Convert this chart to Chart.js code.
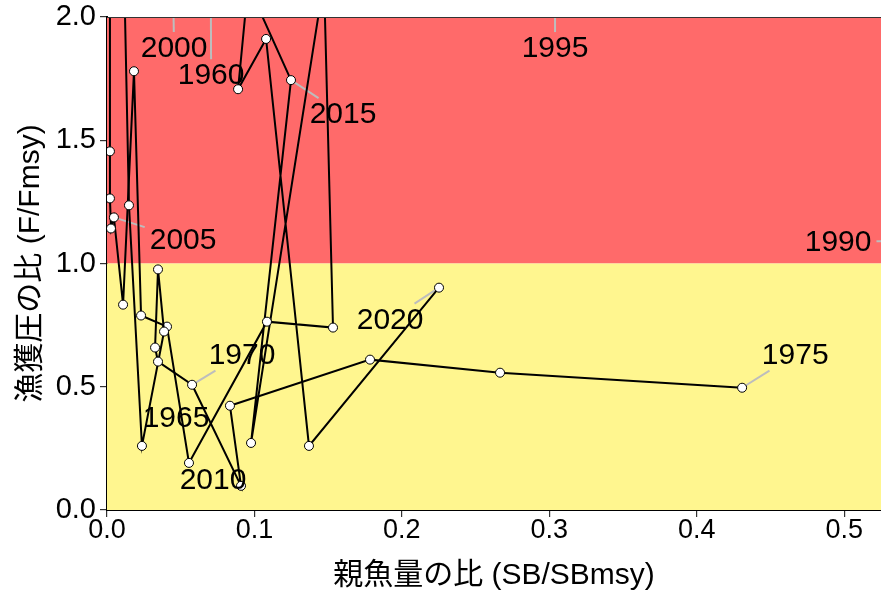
<!DOCTYPE html>
<html>
<head>
<meta charset="utf-8">
<script src="https://cdn.jsdelivr.net/npm/chart.js@4.4.1/dist/chart.umd.min.js"></script>
<style>
  html, body { margin: 0; padding: 0; background: #fff; }
  #wrap { width: 881px; height: 594px; }
</style>
</head>
<body>
<div id="wrap"><canvas id="kobe"></canvas></div>
<script>
// first run of years (1960-1975)
const yearsA = [1960, 1961, 1962, 1963, 1964, 1965, 1966, 1967, 1968, 1969, 1970, 1971, 1972, 1973, 1974, 1975];
const sbA = [0.0699, 0.045, 0.020, 0.0105, 0.0149, 0.0237, 0.0387, 0.0346, 0.0326, 0.0346, 0.0577, 0.0909, 0.0834, 0.1784, 0.2666, 0.4308];
const fA = [3.4, 3.9, 3.3, 2.5, 1.236, 0.260, 0.724, 0.976, 0.659, 0.602, 0.508, 0.098, 0.423, 0.610, 0.557, 0.496];

// second run of years (1990-2020)
const yearsB = [1990, 1991, 1992, 1993, 1994, 1995, 1996, 1997, 1998, 1999, 2000, 2001, 2002, 2003, 2004, 2005,
                2006, 2007, 2008, 2009, 2010, 2011, 2012, 2013, 2014, 2015, 2016, 2017, 2018, 2019, 2020];
const sbB = [0.60, 0.66, 0.56, 0.46, 0.37, 0.3039, 0.23, 0.16, 0.11, 0.07, 0.0421, 0.002, 0.0020, 0.0020, 0.0027, 0.0047,
             0.0109, 0.0183, 0.0231, 0.0407, 0.0556, 0.1085, 0.1533, 0.1472, 0.0977, 0.1248, 0.0957, 0.0889, 0.1079, 0.1370, 0.2252];
const fB = [1.093, 2.7, 3.1, 3.4, 3.0, 2.9, 3.2, 3.5, 3.3, 3.0, 3.1, 2.7, 1.455, 1.264, 1.142, 1.187,
            0.833, 1.780, 0.789, 0.744, 0.191, 0.764, 0.740, 2.15, 0.272, 1.744, 2.13, 1.707, 1.911, 0.260, 0.902];

const xTicks = [0, 0.1, 0.2, 0.3, 0.4, 0.5];
const yTicks = [0, 0.5, 1.0, 1.5, 2.0];

// where the year labels sit (data units)
const labelYears = [1960, 1965, 1970, 1975, 1990, 1995, 2000, 2005, 2010, 2015, 2020];
const labelX = [0.0706, 0.0468, 0.0916, 0.4668, 0.4959, 0.3039, 0.0455, 0.0516, 0.0719, 0.1601, 0.1920];
const labelY = [1.764, 0.374, 0.630, 0.630, 1.089, 1.874, 1.874, 1.098, 0.122, 1.606, 0.772];

const FONT = '"Liberation Sans", Arial, "Noto Sans CJK JP", sans-serif';

const toPts = (xs, ys) => xs.map((v, i) => ({ x: v, y: ys[i] }));

function findYear(yr) {
  let i = yearsA.indexOf(yr);
  if (i >= 0) return { x: sbA[i], y: fA[i] };
  i = yearsB.indexOf(yr);
  if (i >= 0) return { x: sbB[i], y: fB[i] };
  return null;
}

const zones = {
  id: 'zones',
  beforeDatasetsDraw(chart) {
    const { ctx, chartArea: a, scales: { x, y } } = chart;
    const y1 = y.getPixelForValue(1.0);
    ctx.save();
    ctx.fillStyle = '#FF6A6A';
    ctx.fillRect(a.left, a.top, a.right - a.left, y1 - a.top);
    ctx.fillStyle = '#FFF68F';
    ctx.fillRect(a.left, y1, a.right - a.left, a.bottom - y1);

    // leader segments (short ones are skipped, like ggrepel)
    ctx.beginPath();
    ctx.rect(a.left, a.top, a.right - a.left, a.bottom - a.top);
    ctx.clip();
    ctx.font = '30px ' + FONT;
    ctx.strokeStyle = '#BDBDBD';
    ctx.lineWidth = 2;
    labelYears.forEach((yr, i) => {
      const p = findYear(yr);
      if (!p) return;
      const cx = x.getPixelForValue(labelX[i]);
      const cy = y.getPixelForValue(labelY[i]);
      const px = x.getPixelForValue(p.x);
      const py = y.getPixelForValue(p.y);
      const hw = ctx.measureText(String(yr)).width / 2 + 5;
      const hh = 16;
      const dx = px - cx, dy = py - cy;
      const t = Math.min(Math.abs(dx) > 0 ? hw / Math.abs(dx) : Infinity, Math.abs(dy) > 0 ? hh / Math.abs(dy) : Infinity);
      if (t >= 1) return;
      const sx = cx + dx * t, sy = cy + dy * t;
      if (Math.hypot(px - sx, py - sy) < 22) return;
      ctx.beginPath();
      ctx.moveTo(sx, sy);
      ctx.lineTo(px, py);
      ctx.stroke();
    });
    ctx.restore();
  },
  afterDatasetsDraw(chart) {
    const { ctx, chartArea: a, scales: { x, y } } = chart;
    ctx.save();
    ctx.beginPath();
    ctx.rect(a.left, 0, a.right - a.left, a.bottom);
    ctx.clip();
    ctx.fillStyle = '#000';
    ctx.font = '30px ' + FONT;
    ctx.textAlign = 'center';
    ctx.textBaseline = 'middle';
    labelYears.forEach((yr, i) => {
      ctx.fillText(String(yr), x.getPixelForValue(labelX[i]), y.getPixelForValue(labelY[i]) + 1);
    });
    ctx.restore();
    ctx.save();
    ctx.strokeStyle = '#333';
    ctx.lineWidth = 1;
    ctx.beginPath();
    ctx.moveTo(a.left, a.top + 0.5);
    ctx.lineTo(a.right, a.top + 0.5);
    ctx.stroke();
    ctx.restore();
  }
};

const lineStyle = {
  showLine: true,
  borderColor: '#000',
  borderWidth: 2,
  pointRadius: 4.5,
  pointBackgroundColor: '#fff',
  pointBorderColor: '#000',
  pointBorderWidth: 1,
  tension: 0
};

new Chart(document.getElementById('kobe'), {
  type: 'scatter',
  data: {
    datasets: [
      Object.assign({ data: toPts(sbA, fA) }, lineStyle),
      Object.assign({ data: toPts(sbB, fB) }, lineStyle)
    ]
  },
  options: {
    responsive: true,
    maintainAspectRatio: false,
    animation: false,
    layout: { autoPadding: false, padding: { top: 17, right: 0, left: 0, bottom: 0 } },
    plugins: { legend: { display: false }, tooltip: { enabled: false } },
    scales: {
      x: {
        type: 'linear', min: 0, max: 0.525,
        afterBuildTicks: s => { s.ticks = xTicks.map(v => ({ value: v })); },
        afterFit: s => { s.height = 84; s.paddingLeft = 0; s.paddingRight = 0; },
        grid: { drawOnChartArea: false, drawTicks: true, tickLength: 7, color: '#333', lineWidth: 1.2 },
        border: { display: true, color: '#000', width: 2 },
        ticks: { color: '#000', padding: -3, font: { family: FONT, size: 27 }, callback: v => v.toFixed(1) },
        title: { display: true, text: '親魚量の比 (SB/SBmsy)', color: '#000', font: { family: FONT, size: 30 }, padding: { top: 4, bottom: 0 } }
      },
      y: {
        type: 'linear', min: 0, max: 2,
        afterBuildTicks: s => { s.ticks = yTicks.map(v => ({ value: v })); },
        afterFit: s => { s.width = 107; s.paddingTop = 0; s.paddingBottom = 0; },
        grid: { drawOnChartArea: false, drawTicks: true, tickLength: 7, color: '#333', lineWidth: 1.2 },
        border: { display: true, color: '#000', width: 2 },
        ticks: { color: '#000', padding: 4, font: { family: FONT, size: 29 }, callback: v => v.toFixed(1) },
        title: { display: true, text: '漁獲圧の比 (F/Fmsy)', color: '#000', font: { family: FONT, size: 30 }, padding: { top: 13, bottom: 0 } }
      }
    }
  },
  plugins: [zones]
});
</script>
</body>
</html>
